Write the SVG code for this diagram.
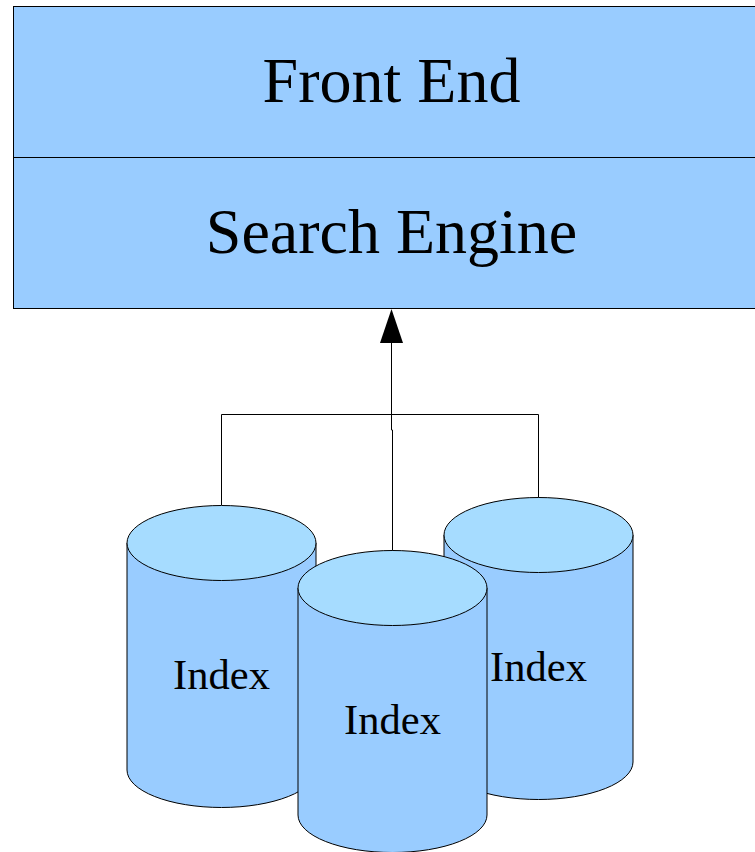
<svg xmlns="http://www.w3.org/2000/svg" width="755" height="852" viewBox="0 0 755 852">
<style>
.box{fill:#99ccff;stroke:#000;stroke-width:1}
.top{fill:#a6dcff;stroke:#000;stroke-width:1}
.big{font-family:"Liberation Serif",serif;font-size:64px;text-anchor:middle;fill:#000}
.small{font-family:"Liberation Serif",serif;font-size:42.500px;text-anchor:middle;fill:#000}
.c{fill:none;stroke:#000;stroke-width:1}
</style>
<rect width="755" height="852" fill="#fff"/>
<g id="connectors">
<path class="c" d="M221.500 505V414.500H538.500V498"/>
<path class="c" d="M391.500 340V430H392.500V551"/>
<polygon points="391.500,309 380,343 403,343" fill="#000"/>
</g>
<g id="front-end">
<rect class="box" x="13.500" y="6.500" width="743" height="151"/>
<text class="big" x="391.500" y="102">Front End</text>
</g>
<g id="search-engine">
<rect class="box" x="13.500" y="157.500" width="743" height="151"/>
<text class="big" x="391.500" y="253">Search Engine</text>
</g>
<g id="index-left">
<path class="box" d="M127 543V770A94.500 37.500 0 0 0 316 770V543Z"/>
<ellipse class="top" cx="221.500" cy="543" rx="94.500" ry="37.500"/>
<text class="small" x="221.500" y="689">Index</text>
</g>
<g id="index-right">
<path class="box" d="M444 535V762A94.500 37.500 0 0 0 633 762V535Z"/>
<ellipse class="top" cx="538.500" cy="535" rx="94.500" ry="37.500"/>
<text class="small" x="538.500" y="681">Index</text>
</g>
<g id="index-middle">
<path class="box" d="M298 588V815A94.500 37.500 0 0 0 487 815V588Z"/>
<ellipse class="top" cx="392.500" cy="588" rx="94.500" ry="37.500"/>
<text class="small" x="392.500" y="734">Index</text>
</g>
</svg>
